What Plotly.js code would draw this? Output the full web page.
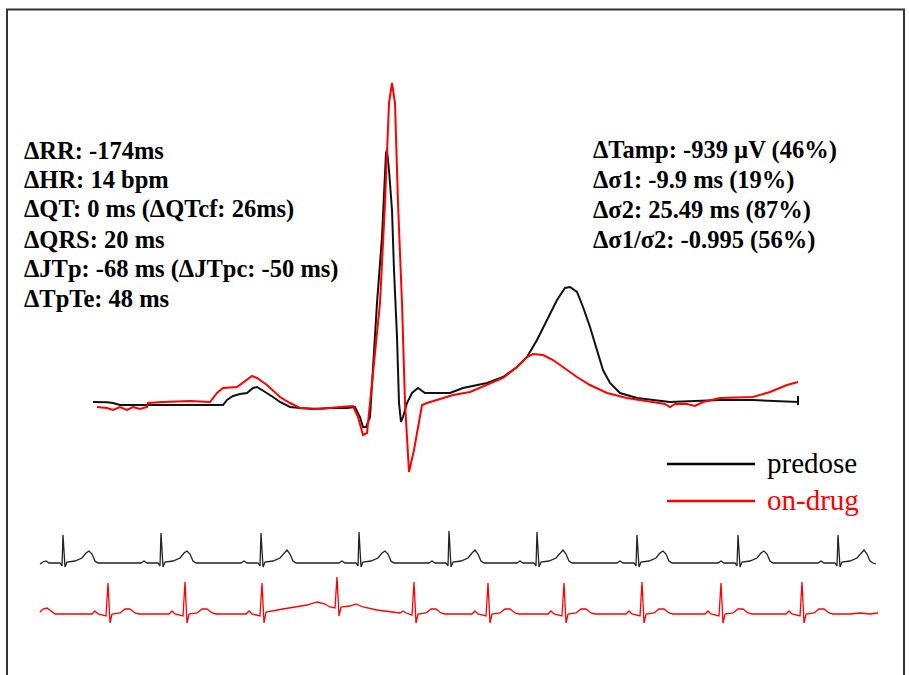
<!DOCTYPE html>
<html>
<head>
<meta charset="utf-8">
<script src="https://cdn.plot.ly/plotly-3.0.1.min.js"></script>
<style>
  html, body { margin: 0; padding: 0; background: #fff; }
  #chart { width: 909px; height: 675px; }
</style>
</head>
<body>
<div id="chart"></div>
<script>
// ---------- Median beat (time in ms relative to R peak, amplitude in µV) ----------
const predoseBeatTime = [-588,-574,-560,-548,-534,-474,-414,-328,-320,-308,-294,-280,-268,-260,-250,-240,-228,-214,-194,-174,-148,-114,-80,-64,-54,-48,-42,-34,-20,-10,-2,0,4,10,14,20,24,28,32,40,50,62,76,126,152,200,232,260,280,300,320,340,356,366,380,392,406,420,432,446,466,500,566,666,732,822,822,822];
const predoseBeatAmp  = [45,45,40,30,0,0,0,0,75,135,165,180,255,270,225,180,120,45,-30,-45,-60,-45,-45,-30,-180,-330,-330,-180,1530,2520,3780,3825,3525,2925,2025,1020,30,-255,-180,30,180,255,180,180,255,330,420,570,720,975,1275,1575,1755,1770,1695,1470,1170,825,525,330,180,105,45,75,75,45,135,0];

const ondrugBeatTime = [-580,-560,-548,-534,-520,-508,-494,-480,-478,-448,-394,-354,-340,-328,-300,-280,-270,-260,-240,-214,-194,-174,-134,-94,-68,-58,-48,-40,-28,-14,-4,4,10,16,22,30,36,44,54,64,70,80,100,132,166,200,232,260,280,292,312,332,352,380,406,440,480,532,556,566,576,600,616,632,666,732,766,800,822];
const ondrugBeatAmp  = [-30,-45,-75,-30,-75,-30,-60,-30,30,45,60,45,180,255,270,375,435,405,300,120,30,-45,-60,-30,-15,-180,-450,-420,480,1530,3030,4530,4830,4530,3030,1530,30,-1005,-675,-225,0,30,75,150,195,300,405,570,720,765,750,675,570,420,300,180,105,45,15,-30,15,15,-15,45,105,120,195,300,345];

// ---------- Rhythm strips (time in ms, amplitude in mV) ----------
const predoseStripTime = [
  0,24,48,72,160,176,184,200,216,280,336,368,392,416,440,464,
  808,832,856,944,960,968,984,1000,1064,1120,1152,1176,1200,1224,1248,
  1608,1632,1656,1744,1760,1768,1784,1800,1864,1920,1952,1976,2000,2024,2048,
  2392,2416,2440,2528,2544,2552,2568,2584,2648,2704,2736,2760,2784,2808,2832,
  3112,3136,3160,3248,3264,3272,3288,3304,3368,3424,3456,3480,3504,3528,3552,
  3816,3840,3864,3952,3968,3976,3992,4008,4072,4128,4160,4184,4208,4232,4256,
  4616,4640,4664,4752,4768,4776,4792,4808,4872,4928,4960,4984,5008,5032,5056,
  5424,5448,5472,5560,5576,5584,5600,5616,5680,5736,5768,5792,5816,5840,5864,
  6224,6248,6272,6360,6376,6384,6400,6416,6480,6536,6568,6592,6616,6640,6664,6688];
const predoseStripAmp = [
  -0.05,0.05,0.1,0,0,-0.15,1.4,-0.2,0.05,0.1,0.25,0.5,0.6,0.45,0.1,0,
  0,0.1,0,0,-0.15,1.5,-0.2,0.05,0.1,0.25,0.5,0.6,0.45,0.1,0,
  0,0.1,0,0,-0.15,1.5,-0.2,0.05,0.1,0.25,0.5,0.65,0.45,0.1,0,
  0,0.1,0,0,-0.15,1.55,-0.2,0.05,0.1,0.25,0.5,0.6,0.45,0.1,0,
  0,0.1,0,0,-0.15,1.6,-0.2,0.05,0.1,0.25,0.5,0.65,0.45,0.1,0,
  0,0.1,0,0,-0.15,1.55,-0.2,0.05,0.1,0.25,0.5,0.65,0.45,0.1,0,
  0,0.1,0,0,-0.15,1.4,-0.2,0.05,0.1,0.25,0.5,0.6,0.45,0.1,0,
  0,0.1,0,0,-0.15,1.4,-0.2,0.05,0.1,0.25,0.5,0.6,0.45,0.1,0,
  0,0.1,0,0,-0.15,1.4,-0.2,0.05,0.1,0.25,0.5,0.65,0.45,0.1,0,-0.05];

const ondrugStripTime = [
  0,24,56,88,120,320,
  416,440,464,528,544,560,576,640,680,720,760,792,
  1032,1056,1080,1144,1160,1176,1192,1256,1296,1336,1376,1408,
  1648,1672,1696,1760,1776,1792,1808,1944,2136,2216,2280,2320,
  2360,2376,2392,2408,2480,2528,2584,2696,2856,
  2880,2904,2928,2976,2992,3008,3024,3088,3128,3168,3208,3240,
  3456,3480,3504,3568,3584,3600,3616,3680,3720,3760,3800,3832,
  4064,4088,4112,4176,4192,4208,4224,4288,4328,4368,4408,4440,
  4688,4712,4736,4800,4816,4832,4848,4912,4952,4992,5032,5064,
  5320,5344,5368,5432,5448,5464,5480,5544,5584,5624,5664,5696,
  5968,5992,6016,6080,6096,6112,6128,6192,6232,6272,6312,6344,6480,6560,6640,6704];
const ondrugStripAmp = [
  0.1,0.25,0.3,0.15,0,0,
  0,0.15,0,-0.1,1.55,-0.45,0,0.05,0.25,0.25,0.05,0,
  0,0.15,0,-0.1,1.6,-0.45,0,0.05,0.25,0.25,0.05,0,
  0,0.15,0,-0.1,1.55,-0.45,0.1,0.25,0.45,0.6,0.5,0.35,
  0.3,1.85,-0.1,0.35,0.4,0.5,0.35,0.2,0.1,
  0.05,0.15,0.05,-0.05,1.6,-0.45,0,0.05,0.25,0.25,0.05,0,
  0,0.15,0,-0.1,1.55,-0.45,0,0.05,0.25,0.25,0.05,0,
  0,0.15,0,-0.1,1.55,-0.45,0,0.05,0.25,0.25,0.05,0,
  0,0.15,0,-0.1,1.6,-0.45,0,0.05,0.25,0.25,0.05,0,
  0,0.15,0,-0.1,1.55,-0.45,0,0.05,0.25,0.25,0.05,0,
  0,0.15,0,-0.1,1.6,-0.45,0,0.05,0.25,0.25,0.05,0,0,0.05,0,0.05];

// ---------- Text ----------
const leftLabels = [
  "ΔRR: -174ms",
  "ΔHR: 14 bpm",
  "ΔQT: 0 ms (ΔQTcf: 26ms)",
  "ΔQRS: 20 ms",
  "ΔJTp: -68 ms (ΔJTpc: -50 ms)",
  "ΔTpTe: 48 ms"
];
const rightLabels = [
  "ΔTamp: -939 µV (46%)",
  "Δσ1: -9.9 ms (19%)",
  "Δσ2: 25.49 ms (87%)",
  "Δσ1/σ2: -0.995 (56%)"
];
const seriesNames = ["predose", "on-drug"];
const seriesColors = ["#111111", "#ff0000"];

// ---------- Layout helpers (pixel -> paper) ----------
const W = 909, H = 675;
const px = x => x / W;
const py = y => 1 - y / H;
const FONT = "'Liberation Serif', 'Times New Roman', serif";

const traces = [
  {x: predoseBeatTime, y: predoseBeatAmp, xaxis: "x", yaxis: "y", mode: "lines",
   line: {color: seriesColors[0], width: 2}, name: seriesNames[0]},
  {x: ondrugBeatTime, y: ondrugBeatAmp, xaxis: "x", yaxis: "y", mode: "lines",
   line: {color: seriesColors[1], width: 2}, name: seriesNames[1]},
  {x: predoseStripTime, y: predoseStripAmp, xaxis: "x2", yaxis: "y2", mode: "lines",
   line: {color: "#222222", width: 1.3}, name: seriesNames[0] + " strip"},
  {x: ondrugStripTime, y: ondrugStripAmp, xaxis: "x2", yaxis: "y3", mode: "lines",
   line: {color: seriesColors[1], width: 1.3}, name: seriesNames[1] + " strip"}
];

const hidden = {visible: false, fixedrange: true, showgrid: false, zeroline: false};

const annotations = [];
leftLabels.forEach((t, i) => {
  annotations.push({xref: "paper", yref: "paper", x: px(22), y: py(150 + i * 29.7),
    xanchor: "left", yanchor: "middle", showarrow: false, text: "<b>" + t + "</b>",
    font: {family: FONT, size: 24.5, color: "#000"}});
});
rightLabels.forEach((t, i) => {
  annotations.push({xref: "paper", yref: "paper", x: px(591), y: py(150 + i * 30),
    xanchor: "left", yanchor: "middle", showarrow: false, text: "<b>" + t + "</b>",
    font: {family: FONT, size: 24.5, color: "#000"}});
});
const legendY = [464, 501];
seriesNames.forEach((n, i) => {
  annotations.push({xref: "paper", yref: "paper", x: px(765), y: py(legendY[i] - 1),
    xanchor: "left", yanchor: "middle", showarrow: false, text: n,
    font: {family: FONT, size: 29, color: i === 0 ? "#000" : seriesColors[i]}});
});

const shapes = [
  {type: "rect", xref: "paper", yref: "paper", x0: px(7), x1: px(904), y0: -0.05, y1: py(9.5),
   line: {color: "#333333", width: 2}, fillcolor: "rgba(0,0,0,0)"},
  {type: "line", xref: "paper", yref: "paper", x0: px(667), x1: px(755), y0: py(legendY[0]), y1: py(legendY[0]),
   line: {color: "#000", width: 2.5}},
  {type: "line", xref: "paper", yref: "paper", x0: px(667), x1: px(755), y0: py(legendY[1]), y1: py(legendY[1]),
   line: {color: seriesColors[1], width: 2.5}}
];

const layout = {
  width: W, height: H,
  margin: {l: 0, r: 0, t: 0, b: 0, pad: 0},
  paper_bgcolor: "#ffffff", plot_bgcolor: "rgba(0,0,0,0)",
  showlegend: false, hovermode: false,
  xaxis: Object.assign({range: [-774, 1044], domain: [0, 1]}, hidden),
  yaxis: Object.assign({range: [-4050, 6075], domain: [0, 1]}, hidden),
  xaxis2: Object.assign({range: [-320, 6952], overlaying: "x", anchor: "y2"}, hidden),
  yaxis2: Object.assign({range: [-5.6, 28.15], overlaying: "y", anchor: "x2"}, hidden),
  yaxis3: Object.assign({range: [-3.05, 30.7], overlaying: "y", anchor: "x2"}, hidden),
  annotations: annotations,
  shapes: shapes
};

Plotly.newPlot("chart", traces, layout, {staticPlot: true, displayModeBar: false});
</script>
</body>
</html>
